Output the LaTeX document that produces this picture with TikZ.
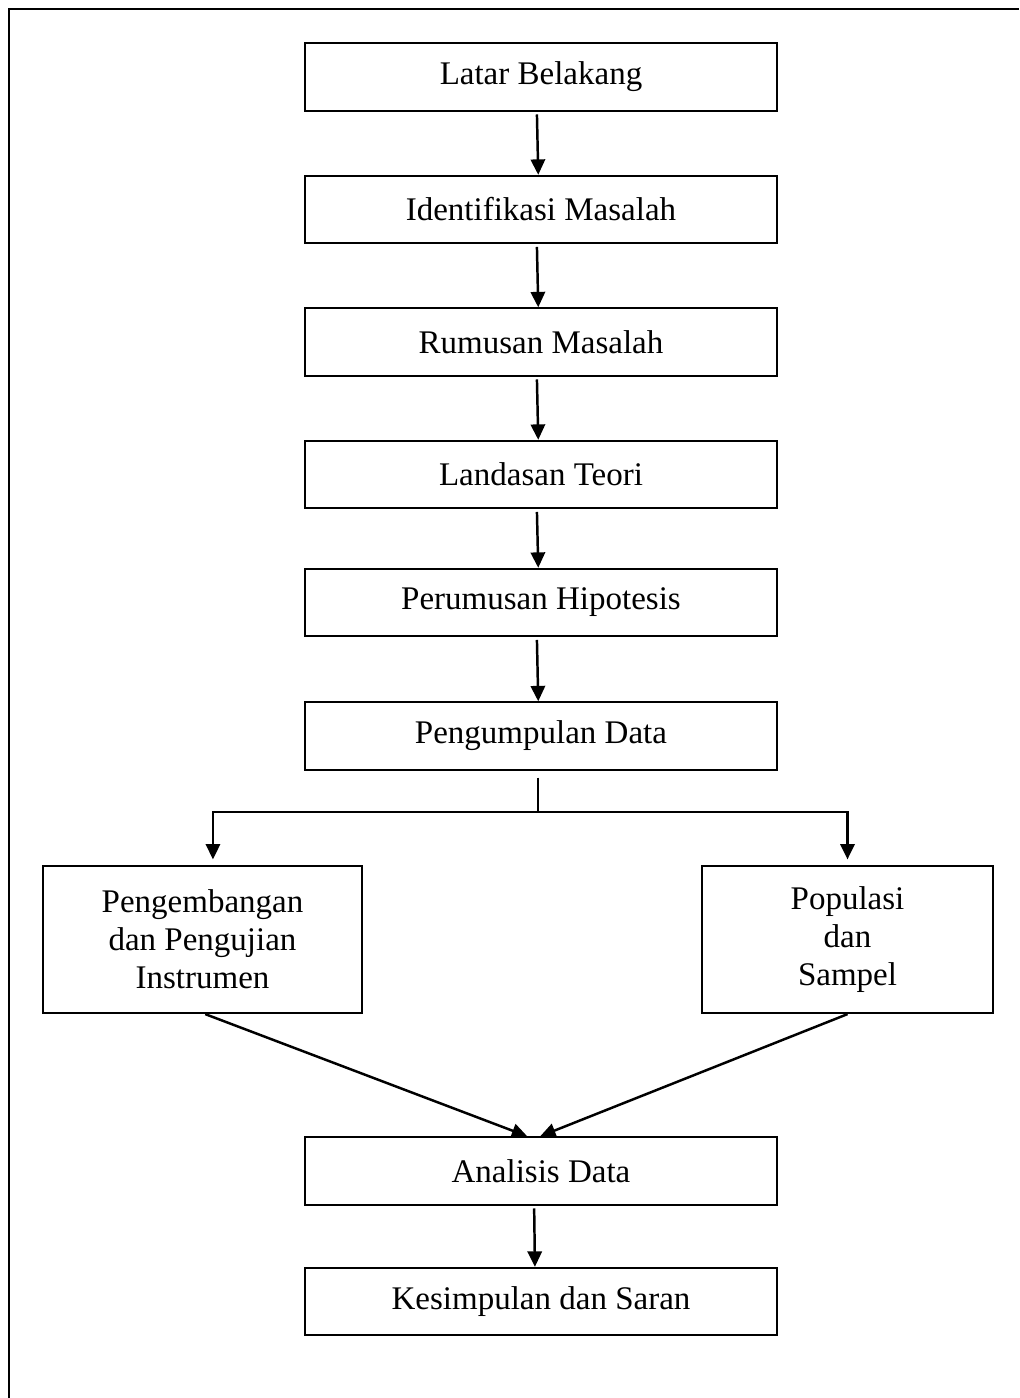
\documentclass[tikz,border=0pt]{standalone}
\usepackage{fontspec}
\setmainfont{Liberation Serif}
\usepackage{tikz}
\usetikzlibrary{arrows.meta,positioning,calc}

\begin{document}
\begin{tikzpicture}[x=0.3636pt,y=-0.3636pt,>={Triangle[length=5.6pt,width=5.2pt]},line width=0.75pt,font=\fontsize{12}{13.8}\selectfont]
	\tikzstyle{block} = [draw,rectangle,align=center,minimum width=171.6pt,minimum height=24.5pt,inner sep=0pt]
	\tikzstyle{block2} = [draw,rectangle,align=center,minimum width=116pt,minimum height=53.5pt,inner sep=0pt]
	\tikzstyle{block3} = [draw,rectangle,align=center,minimum width=105.8pt,minimum height=53.5pt,inner sep=0pt]
	\tikzstyle{link} = [->,line width=0.9pt]
	\useasboundingbox (0,0) rectangle (1019,1398);
	
	% frame (open at right and bottom)
	\draw[line width=0.8pt] (9,1398) -- (9,9) -- (1019,9);
	
	\node[block] (T1) at (541,77) {Latar Belakang};
	\node[block] (T2) at (541,209.5) {Identifikasi Masalah};
	\node[block] (T3) at (541,342) {Rumusan Masalah};
	\node[block] (T4) at (541,474.5) {Landasan Teori};
	\node[block] (T5) at (541,602.5) {Perumusan Hipotesis};
	\node[block] (T6) at (541,736) {Pengumpulan Data};
	\node[block2] (T7) at (202.5,939.5) {Pengembangan \\ dan Pengujian \\ Instrumen};
	\node[block3] (T8) at (847.5,939.5) {Populasi \\ dan \\ Sampel};
	\node[block] (T9) at (541,1171) {Analisis Data};
	\node[block] (T10) at (541,1301.5) {Kesimpulan dan Saran};
	\coordinate (B) at (538,812);
	
	\draw[link,shorten <=1pt] ([xshift=-1.5pt]T1.south) -- ([xshift=-1pt]T2.north);
	\draw[link,shorten <=1pt] ([xshift=-1.5pt]T2.south) -- ([xshift=-1pt]T3.north);
	\draw[link,shorten <=1pt] ([xshift=-1.5pt]T3.south) -- ([xshift=-1pt]T4.north);
	\draw[link,shorten <=1pt] ([xshift=-1.5pt]T4.south) -- ([xshift=-1pt]T5.north);
	\draw[link,shorten <=1pt] ([xshift=-1.5pt]T5.south) -- ([xshift=-1pt]T6.north);
	\draw[line width=0.5pt,shorten <=2.5pt] (T6.south -| B) -- (B);
	\draw[link,shorten >=2pt] (B) -| ([xshift=3.8pt]T7.north);
	\draw[link,shorten >=2pt] (B) -| ([xshift=0pt]T8.north);
	\draw[link] ([xshift=1pt]T7.south) -- ([xshift=-5pt]T9.north);
	\draw[link] ([xshift=0pt]T8.south) -- ([xshift=-0.3pt]T9.north);
	\draw[link,shorten <=1pt] ([xshift=-2.5pt]T9.south) -- ([xshift=-2.2pt]T10.north);
	
\end{tikzpicture}
\end{document}
